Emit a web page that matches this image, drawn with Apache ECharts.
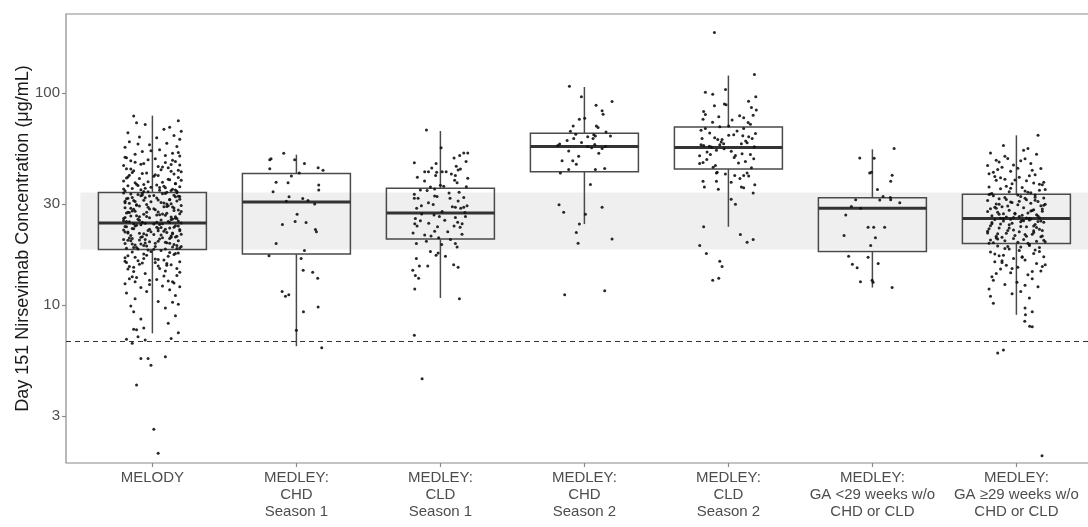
<!DOCTYPE html>
<html>
<head>
<meta charset="utf-8">
<script src="https://cdn.jsdelivr.net/npm/echarts@6/dist/echarts.min.js"></script>
<style>
  html, body { margin: 0; padding: 0; background: #ffffff; }
  #chart { width: 1088px; height: 527px; }
</style>
</head>
<body>
<div id="chart"></div>
<script>
// ---- data ---------------------------------------------------------------
const categories = [
  'MELODY',
  'MEDLEY:\nCHD\nSeason 1',
  'MEDLEY:\nCLD\nSeason 1',
  'MEDLEY:\nCHD\nSeason 2',
  'MEDLEY:\nCLD\nSeason 2',
  'MEDLEY:\nGA <29 weeks w/o\nCHD or CLD',
  'MEDLEY:\nGA \u226529 weeks w/o\nCHD or CLD'
];
const yTickValues = [3, 10, 30, 100];
const yTitle = 'Day 151 Nirsevimab Concentration (\u03bcg/mL)';
const thresholdConc = 6.8;               // dashed reference level, µg/mL
const referenceRange = [18.3, 34.0];     // MELODY interquartile range, µg/mL

// box summaries: [lower whisker, Q1, median, Q3, upper whisker], µg/mL
const boxStats = [
  [7.36, 18.3, 24.4, 34.0, 78.3],
  [6.4, 17.4, 30.6, 41.7, 51.2],
  [10.8, 20.5, 27.2, 35.6, 66.2],
  [24.1, 42.5, 55.9, 64.7, 106.8],
  [23.4, 43.8, 55.3, 69.1, 121],
  [12.1, 17.9, 28.6, 32.1, 54.3],
  [9.0, 19.5, 25.6, 33.3, 63.2]
];

// individual infants: [horizontal jitter (category units), concentration µg/mL]
const melody = [
  [-.13,78],[.18,74],[-.05,71],[.12,69],[.2,66],[-.17,65],[.15,63],[-.09,62],[.03,61.5],[.19,60.5],[-.11,72.5],[.08,67.5],
  [-.16,59],[.1,58],[-.02,57],[.17,56],[-.19,55.5],[.05,54],[-.07,53],[.14,52],[-.12,51.5],[.19,50.5],[-.18,49.5],[.02,49],
  [-.15,48],[.16,47.5],[.09,47],[-.06,46.5],[.13,46],[-.2,45.5],[.04,45],[-.1,57.5],[.18,52.5],[-.03,48.5],
  [.11,44.5],[-.18,44],[.06,43.5],[-.13,43],[.2,42.5],[-.04,42],[.15,41.5],[-.16,41],[.01,40.5],[.18,40],[-.09,39.5],
  [.12,39],[-.2,38.5],[.07,38],[-.12,37.8],[.16,37.5],[-.06,37],[.03,36.8],[-.17,36.5],[.19,36.2],[-.01,36],[.09,35.8],
  [-.14,35.5],[.14,35.2],[-.08,35],[.05,34.8],[-.19,34.6],[.17,34.4],[-.03,34.2],[.1,34.1],[-.15,43.8],[.13,42.8],
  [-.07,41.8],[.04,40.8],[-.18,39.8],[.2,38.8],[-.11,37.2],[.08,36.4],[-.05,35.6],[.16,34.9],
  [-.19,49.8],[.14,48.2],[-.08,46.2],[.07,44.8],[.18,43.2],[-.14,42.2],[.02,41.2],[-.17,40.2],[.11,39.2],[-.03,38.2],
  [.16,37.4],[-.1,36.6],[.05,35.9],[-.2,35.3],[.13,34.7],[-.06,34.3],[.19,45.8],[-.12,47.2],[.09,50.8],[-.01,53.5],
  [-.2,33.8],[.07,33.5],[-.1,33.2],[.15,33],[-.02,32.7],[.19,32.5],[-.14,32.2],[.03,32],[-.18,31.7],[.12,31.5],
  [-.06,31.2],[.17,31],[-.12,30.8],[.06,30.5],[-.16,30.2],[.1,30],[-.04,29.8],[.2,29.5],[-.09,29.3],[.14,29],
  [-.19,28.8],[.01,28.5],[-.13,28.3],[.18,28.1],[.09,33.6],[-.07,33.1],[.16,32.4],[-.17,31.9],[.04,31.3],[-.01,30.7],
  [.13,30.1],[-.11,29.7],[.08,29.1],[-.15,28.6],[.02,28.2],[-.08,32.8],[.19,31.6],[-.19,30.4],[.11,29.4],[-.03,28.9],
  [.17,33.9],[-.15,33.4],[.01,32.9],[-.05,32.1],[.12,31.4],[-.19,30.9],[.08,30.3],[-.11,29.6],[.15,28.7],[-.02,28.4],
  [.2,27.6],[-.16,27.3],[.05,26.7],[-.09,26.1],[.13,25.3],[-.18,24.8],[.03,24.6],[-.07,33.7],[.18,32.6],[-.13,31.1],
  [.1,29.2],[-.04,27.4],[.16,26.1],[-.2,25.6],[.07,24.2],
  [.15,27.9],[-.12,27.7],[.04,27.5],[-.18,27.2],[.19,27],[-.06,26.8],[.09,26.5],[-.15,26.3],[.13,26],[-.02,25.8],
  [.17,25.6],[-.1,25.4],[.06,25.2],[-.2,25],[.11,24.8],[-.07,24.6],[.2,24.4],[-.13,24.2],[.01,24.1],[-.17,27.4],
  [.07,26.9],[-.04,26.2],[.16,25.7],[-.09,25.1],[.12,24.5],[-.14,27.8],[.03,26.6],[-.19,25.9],[.18,24.9],[-.05,24.3],
  [.1,27.1],[-.11,26.4],[.14,25.5],[-.16,24.7],[.05,24.0],
  [-.08,23.9],[.16,23.7],[-.19,23.5],[.03,23.3],[.12,23.1],[-.13,22.9],[.19,22.7],[-.03,22.5],[.08,22.3],[-.17,22.1],
  [.14,21.9],[-.06,21.7],[.01,21.5],[-.15,21.3],[.17,21.1],[-.11,23.8],[.06,23.2],[-.2,22.6],[.1,22],[-.04,21.4],
  [.18,23.6],[-.14,23],[.04,22.4],[-.09,21.8],[.13,21.2],[-.18,23.4],[.09,22.8],[-.01,22.2],[.2,21.6],[-.07,21],
  [-.12,23.6],[.15,23.3],[-.02,22.8],[.19,22.4],[-.17,21.9],[.06,21.4],[-.08,20.9],[.12,20.6],[-.15,20.1],[.02,19.6],
  [.17,19.1],[-.11,18.7],[.09,18.4],[-.19,22.1],[.04,23],[-.05,20.4],[.14,21.7],[-.14,19.4],[.2,18.9],[-.03,18.2],
  [.13,20.9],[-.16,20.7],[.05,20.5],[-.09,20.3],[.18,20.1],[-.02,19.9],[.1,19.7],[-.19,19.5],[.15,19.3],[-.06,19.1],
  [.02,18.9],[-.13,18.7],[.17,18.5],[-.1,18.4],[.07,20.8],[-.17,20.2],[.12,19.6],[-.04,19],[.19,18.6],[-.14,20.6],
  [.04,20],[-.08,19.4],[.14,18.8],[-.2,20.4],[.09,19.8],[-.12,19.2],[.01,18.35],[.16,20.95],[-.05,19.65],[-.18,18.55],
  [.06,18.1],[-.14,17.8],[.16,17.5],[-.04,17.2],[.11,17],[-.19,16.7],[.02,16.5],[-.1,16.2],[.19,16],[-.07,15.8],
  [.13,15.5],[-.16,15.2],[-.01,17.9],[.15,17.3],[-.12,16.8],[.08,16.3],[-.18,15.9],[.04,15.3],[.18,17.6],[-.06,16.6],
  [.1,15.7],[-.13,15.1],
  [.12,17.7],[-.17,17.1],[.04,16.4],[-.09,15.6],[.17,14.9],[-.13,14.4],[.08,13.7],[-.02,13.1],[.15,12.7],[-.19,16.1],
  [.1,15.4],[-.06,17.4],[.19,12.2],[-.12,12.9],[.02,15.9],
  [-.17,14.8],[.09,14.5],[-.05,14.1],[.17,13.8],[-.11,13.5],[.03,13.2],[.14,12.9],[-.19,12.6],[.07,12.3],[-.08,12.1],
  [.19,14.3],[-.14,13.6],[.11,13],[-.02,12.5],[.05,14.9],[-.16,13.3],
  [.12,11.8],[-.18,11.4],[.16,11.1],[-.12,10.7],[.04,10.4],[.18,10.1],[-.15,9.9],[.09,9.7],[-.04,11.6],[.14,10.3],
  [-.13,9.3],[.16,8.9],[-.08,8.6],[.11,8.2],[-.06,7.8],[-.13,7.7],[-.11,7.65],[.18,7.4],
  [-.18,6.9],[-.14,6.6],[-.1,7.1],[-.05,6.85],[.13,6.95],
  [-.08,5.6],[-.03,5.6],[-.01,5.2],[.09,5.7],[-.11,4.2],[.01,2.6],[.04,2.0]
];
const chdSeason1 = [
  [-.185,48.5],[-.176,49],[-.088,52],[-.012,48.5],[.056,46.5],[.151,44.5],[.185,43.3],[-.035,40.6],[-.185,44],
  [-.141,38],[-.058,37.8],[.155,36.8],[-.162,34.2],[.155,34.9],[-.051,32.4],[.044,31.8],[.127,30],[.005,26.8],
  [-.009,24.8],[-.097,24],[.067,24.5],[.132,22.7],[.139,22.2],[-.141,19.5],[.056,18.1],[-.19,17.1],[.033,16.6],
  [.047,14.6],[.113,14.3],[.148,13.4],[-.099,11.6],[-.076,11],[-.053,11.2],[.151,9.8],[.049,9.3],[0,7.6],[.176,6.3],
  [.02,42],[-.07,30.9],[.08,31.1]
];
const cldSeason1 = [
  [-.097,66.9],[.005,55.2],[-.181,46.9],[-.03,46.5],[.095,49.4],[.134,50.8],[.162,52.2],[.19,52.2],[.178,47.6],
  [-.109,42.6],[-.083,42.6],[-.026,42.3],[.012,42.6],[.04,42.6],[-.033,40.8],[.076,41.5],[.123,43.4],[.139,43.9],
  [.104,40.8],[.19,39.7],[.099,38.8],[.116,37.8],[-.069,36.1],[-.139,34.9],[-.092,34.7],[-.04,35.3],[0,36.7],
  [.023,36.4],[-.181,33.3],[-.181,31.9],[-.155,31.9],[-.132,29.4],[-.165,28.6],[-.083,30.4],[-.04,32.7],[-.023,32.5],
  [.067,31.9],[.123,31],[.162,32.2],[.185,29.4],[.083,29.1],[.104,28.9],[.141,28.6],[.162,28.9],[.012,27.6],
  [-.044,26.6],[-.007,26.2],[-.174,25.6],[-.139,25],[-.178,24.2],[-.162,23.6],[-.081,24.3],[.104,25.9],[.12,24.6],
  [.151,24.2],[.095,23.6],[.137,23.3],[.174,26.2],[.051,22.2],[-.04,22.3],[-.109,21.4],[-.065,21.2],[-.097,20],
  [-.012,20.8],[.009,19.3],[-.167,19.5],[.104,19.5],[.116,18.8],[-.069,17.9],[-.016,17.6],[-.03,17.2],[.035,17],
  [-.167,16.6],[-.088,15.3],[-.146,15.3],[.092,15.5],[.123,15.1],[-.192,14.6],[-.174,13.8],[-.151,13.4],
  [-.178,11.9],[.132,10.7],[-.181,7.2],[-.127,4.5],
  [-.11,38.5],[.06,33.8],[-.05,29.8],[.17,27.3],[-.13,26.9],[.03,25.1],[-.02,23.4],[.15,21.6],[-.19,21.9],
  [.07,20.4],[.18,36.2],[-.16,40.1],[.11,45.2],[-.06,44.3],[.13,34.1]
];
const chdSeason2 = [
  [-.104,107.6],[-.021,96],[.002,76],[-.035,75.2],[-.078,70],[.081,87.7],[.123,82.6],[.13,79.4],[.192,91.3],
  [.083,70],[.095,68.8],[-.097,66],[-.074,61.1],[.023,62.2],[.065,63.6],[.076,62.8],[.06,61.1],[.181,62.8],
  [-.172,57.5],[-.185,56.6],[.023,56],[.072,57.2],[.123,54.7],[.146,56],[-.109,53.3],[-.155,48],[-.081,48],
  [-.04,50.3],[-.056,46.2],[-.109,43.6],[.076,43.6],[.141,44.1],[-.167,42],[.042,37],[-.176,29.7],[-.144,27.4],
  [.123,28.9],[.007,26.8],[-.035,24.1],[-.056,22],[-.044,19.6],[.192,20.5],[-.137,11.2],[.141,11.7],
  [-.02,58.5],[.05,55.2],[-.12,59.8],[.15,65.5],[-.06,64],[.1,52]
];
const cldSeason2 = [
  [-.097,193],[.181,122.4],[-.16,101],[-.109,98.6],[-.028,88.8],[-.016,88.2],[-.097,87.2],[.16,85.5],[.194,83.2],
  [-.172,81.8],[-.16,79.3],[-.176,75.2],[-.067,77.3],[.078,78.1],[.106,76.4],[.172,78.6],[.137,72.6],[.026,74.7],
  [-.16,68.1],[-.06,69.3],[.002,70],[.106,68.1],[.153,71.3],[.188,64.5],[.165,61.1],[.141,62.2],[-.183,61.1],
  [-.095,61.5],[-.074,60.4],[-.044,60.4],[.002,63.3],[.037,63.6],[.09,57.7],[.13,58.3],[-.19,57.1],[-.172,56.6],
  [-.132,56.2],[-.118,55.6],[-.06,57.1],[-.033,57.7],[-.083,53.7],[-.148,52.8],[-.125,51.3],[-.2,50.6],[-.2,46.5],
  [-.176,47],[-.106,44.7],[.049,50.8],[.095,51.8],[.118,47.6],[.153,51.3],[.176,49],[-.083,42],[-.078,42.3],
  [-.021,41.5],[.044,40.8],[.106,40.8],[.13,42],[.141,40.6],[-.176,38.4],[-.167,36.1],[-.083,38.4],[.019,38],
  [.09,36.1],[.106,35.8],[.183,36.9],[.172,33.8],[.019,31.6],[.049,29.9],[-.172,23.4],[.083,21.5],[.13,19.8],
  [.172,20.4],[-.199,19.1],[-.153,17.5],[-.06,16.1],[-.044,15.2],[-.067,13.4],[-.109,13.1],
  [.06,66.2],[-.13,64.8],[.12,59.5],[-.03,54.6],[.18,55.8],[-.15,48.6],[.07,46.8],[-.09,45.6],[.02,53.2],
  [.16,44.5],[-.05,58.8],[.1,62.9],[-.19,66.8],[.04,49.7],[-.11,72.8],[.14,91.5],[-.02,104],[.08,39.5],
  [-.07,35.2],[.19,96]
];
const gaUnder29 = [
  [.151,54.7],[-.088,49.4],[.012,49.3],[-.019,42],[-.007,42.3],[.137,41],[.127,38.4],[.035,35.1],[.074,32.5],
  [.125,32.2],[.127,31.4],[.051,31.3],[-.116,31.4],[.19,30.4],[-.146,29.2],[-.081,28.6],[-.185,26.6],[-.03,23.3],
  [.009,23.3],[.085,23.3],[-.197,21.3],[.021,20.8],[-.012,19.1],[-.03,16.8],[-.165,17],[-.139,15.6],[-.106,15],
  [.04,15.7],[-.083,12.9],[-.002,13.1],[.005,12.8],[.137,12.1]
];
const gaOver29 = [
  [.15,63.2],[-.09,56.6],[-.18,52.2],[.05,53.7],[.08,54.7],[-.2,45.6],[-.14,48.2],[-.08,50.3],[-.06,49.1],[-.02,45.8],
  [.01,44.2],[.06,49],[.1,46.5],[.11,43.3],[.19,38],[-.16,42.3],[-.14,38.8],[-.08,39.2],[-.03,37.4],[.02,40.1],
  [.07,38.6],[.13,41.2],[-.19,36.1],[-.11,35.4],[.04,35.9],[.16,34.8],[-.05,34.2],[.1,33.9],[-.17,33.6],[.18,36.9],
  [-.12,47.3],[.14,51.5],[-.04,42.8],[.09,40.7],[-.1,44.7],[.03,47.9],[.17,44.1],[-.15,40.4],[.12,37.7],[-.07,36.4],
  [.2,35.1],[-.01,38.9],[.06,34.5],[-.13,43.6],[-.19,41.6],
  [.13,33.1],[-.16,32.8],[.03,32.5],[-.08,32.2],[.19,32],[-.12,31.7],[.07,31.4],[-.2,31.1],[.15,30.8],[-.03,30.5],
  [.1,30.2],[-.14,30],[.01,29.7],[.17,29.4],[-.1,29.1],[.05,28.8],[-.18,28.5],[.12,28.2],[-.05,28],[.18,27.7],
  [-.13,27.4],[.08,27.2],[-.01,26.9],[.14,26.7],[-.17,26.4],[.02,26.2],[-.07,26],[.16,25.8],[-.11,25.7],[.09,25.65],
  [-.19,33.2],[.06,31.9],[-.04,30.6],[.2,29.9],[-.15,28.9],[.11,27.9],[-.09,27],[.04,26.5],[-.02,25.9],[.13,31.2],
  [-.06,29.3],[.18,28.4],[-.12,26.8],[.07,25.75],[-.2,27.6],
  [-.11,39.9],[.16,37.1],[-.04,35.6],[.08,34.1],[-.18,33.4],[.13,32.3],[-.07,31.5],[.02,30.9],[.19,29.6],[-.14,28.6],
  [.1,27.8],[-.01,27.1],[.15,26.3],[-.09,25.6],[.05,25],[-.17,24.2],[.12,23.6],[-.05,23.1],[.18,22.5],[-.13,21.7],
  [.07,21.1],[-.02,20.6],[.14,20],[-.19,19.6],[.09,19.1],[-.08,18.5],[.16,17.9],[-.15,17.4],[.04,16.9],[-.1,16.2],
  [.2,15.5],[-.03,14.9],[.11,14.4],[-.16,13.1],[.06,12.4],[-.12,29.9],[.01,33.1],[.17,24.9],[-.2,22.3],[.03,18.8],
  [.1,25.5],[-.15,25.3],[.04,25.1],[-.09,24.9],[.19,24.6],[-.03,24.3],[.13,24],[-.18,23.7],[.07,23.4],[-.12,23.1],
  [.16,22.8],[-.06,22.5],[.02,22.2],[-.2,21.9],[.11,21.6],[-.01,21.3],[.17,21],[-.14,20.7],[.05,20.4],[-.08,20.1],
  [.2,19.9],[-.16,19.7],[.08,19.55],[-.04,25.4],[.15,24.8],[-.11,24.1],[.03,23.5],[-.19,22.9],[.12,22.4],[-.07,21.8],
  [.18,21.2],[-.13,20.5],[.01,19.8],[.09,25.2],[-.17,24.5],[.14,23.2],[-.02,22.6],[.06,21.5],[-.1,20.9],[.19,20.2],
  [-.05,23.9],[.12,22],[-.14,21.1],[.03,24.7],[-.18,20.3],
  [.09,19.3],[-.13,19],[.16,18.7],[-.05,18.4],[.02,18.1],[-.18,17.8],[.12,17.5],[-.09,17.2],[.19,16.9],[-.02,16.6],
  [.06,16.3],[-.15,16],[.14,15.7],[-.07,15.4],[.01,15.1],[-.11,14.8],[.17,14.5],[-.04,14.2],[.08,13.9],[-.17,13.6],
  [.11,13.3],[.004,12.8],[-.08,12.5],[.15,12.2],[-.19,11.9],[.03,11.6],[-.03,11.3],[.09,10.8],[-.16,10.2],[-.18,11],
  [.06,9.7],[.11,9.3],[.063,9.0],[-.06,18.9],[.13,18.2],[-.12,17.1],[.04,16.8],[-.1,15.9],[.18,15.2],[-.14,14.1],
  [.058,8.4],[.092,7.95],[.11,7.9],[-.13,5.95],[-.09,6.14],[.178,1.95]
];
const groups = [melody, chdSeason1, cldSeason1, chdSeason2, cldSeason2, gaUnder29, gaOver29];

// ---- chart --------------------------------------------------------------
const lg = Math.log10;
const AXIS_GREY = '#8a8a8a';
const LABEL_GREY = '#4d4d4d';
const FONT = '"Liberation Sans", Arial, Helvetica, sans-serif';
const catIdx = categories.map((_, i) => i);

const pointData = [];
groups.forEach((g, gi) => g.forEach(p => pointData.push([gi + p[0], lg(p[1])])));

const boxData = boxStats.map((s, i) => [i].concat(s.map(lg)));

const chart = echarts.init(document.getElementById('chart'), null, { renderer: 'canvas' });

chart.setOption({
  animation: false,
  backgroundColor: '#ffffff',
  grid: {
    left: 66, top: 14, width: 1036.8, height: 449,
    show: true, borderColor: AXIS_GREY, borderWidth: 1.2, backgroundColor: '#ffffff',
    containLabel: false, outerBoundsMode: 'none'
  },
  xAxis: {
    type: 'value', min: -0.6, max: 6.6,
    axisLine: { show: false, onZero: false },
    splitLine: { show: false },
    axisTick: { show: true, customValues: catIdx, length: 4, lineStyle: { color: AXIS_GREY, width: 1.2 } },
    axisLabel: {
      customValues: catIdx,
      formatter: v => categories[Math.round(v)],
      color: LABEL_GREY, fontFamily: FONT, fontSize: 15, lineHeight: 17, margin: 6, align: 'center'
    }
  },
  yAxis: {
    type: 'value', min: lg(1.8), max: lg(236),
    axisLine: { show: false, onZero: false },
    splitLine: { show: false },
    axisTick: { show: true, customValues: yTickValues.map(lg), length: 4, lineStyle: { color: AXIS_GREY, width: 1.2 } },
    axisLabel: {
      customValues: yTickValues.map(lg),
      formatter: v => String(Math.round(Math.pow(10, v))),
      color: LABEL_GREY, fontFamily: FONT, fontSize: 15, margin: 6
    },
    name: yTitle, nameLocation: 'middle', nameRotate: 90, nameGap: 34, nameMoveOverlap: false,
    nameTextStyle: { color: '#1a1a1a', fontFamily: FONT, fontSize: 18 }
  },
  series: [
    {
      // shaded MELODY interquartile range across all groups
      type: 'custom', z: 1, silent: true,
      data: [[-0.5, 6.5, lg(referenceRange[0]), lg(referenceRange[1])]],
      encode: { x: [0, 1], y: [2, 3] },
      renderItem: (params, api) => {
        const a = api.coord([api.value(0), api.value(3)]);
        const b = api.coord([api.value(1), api.value(2)]);
        return { type: 'rect', shape: { x: a[0], y: a[1], width: b[0] - a[0], height: b[1] - a[1] },
                 style: { fill: '#efefef' } };
      }
    },
    {
      // box-and-whisker summaries, no end caps
      type: 'custom', z: 2, silent: true,
      data: boxData,
      encode: { x: 0, y: [1, 2, 3, 4, 5] },
      renderItem: (params, api) => {
        const x = api.value(0);
        const pLo = api.coord([x, api.value(1)]);
        const pQ1 = api.coord([x, api.value(2)]);
        const pMd = api.coord([x, api.value(3)]);
        const pQ3 = api.coord([x, api.value(4)]);
        const pHi = api.coord([x, api.value(5)]);
        const hw = api.size([0.375, 0])[0];
        const stroke = '#4a4a4a';
        return {
          type: 'group',
          children: [
            { type: 'line', shape: { x1: pLo[0], y1: pLo[1], x2: pQ1[0], y2: pQ1[1] }, style: { stroke, lineWidth: 1.5 } },
            { type: 'line', shape: { x1: pQ3[0], y1: pQ3[1], x2: pHi[0], y2: pHi[1] }, style: { stroke, lineWidth: 1.5 } },
            { type: 'rect', shape: { x: pQ3[0] - hw, y: pQ3[1], width: 2 * hw, height: pQ1[1] - pQ3[1] },
              style: { fill: 'none', stroke, lineWidth: 1.5 } },
            { type: 'line', shape: { x1: pMd[0] - hw, y1: pMd[1], x2: pMd[0] + hw, y2: pMd[1] },
              style: { stroke: '#333333', lineWidth: 3 } }
          ]
        };
      }
    },
    {
      type: 'scatter', z: 3, silent: true,
      data: pointData,
      symbol: 'circle', symbolSize: 3,
      itemStyle: { color: '#111111', opacity: 0.9 },
      markLine: {
        silent: true, symbol: ['none', 'none'], label: { show: false },
        lineStyle: { type: [5, 4], color: '#333333', width: 1 },
        data: [{ yAxis: lg(thresholdConc) }]
      }
    }
  ]
});
</script>
</body>
</html>
